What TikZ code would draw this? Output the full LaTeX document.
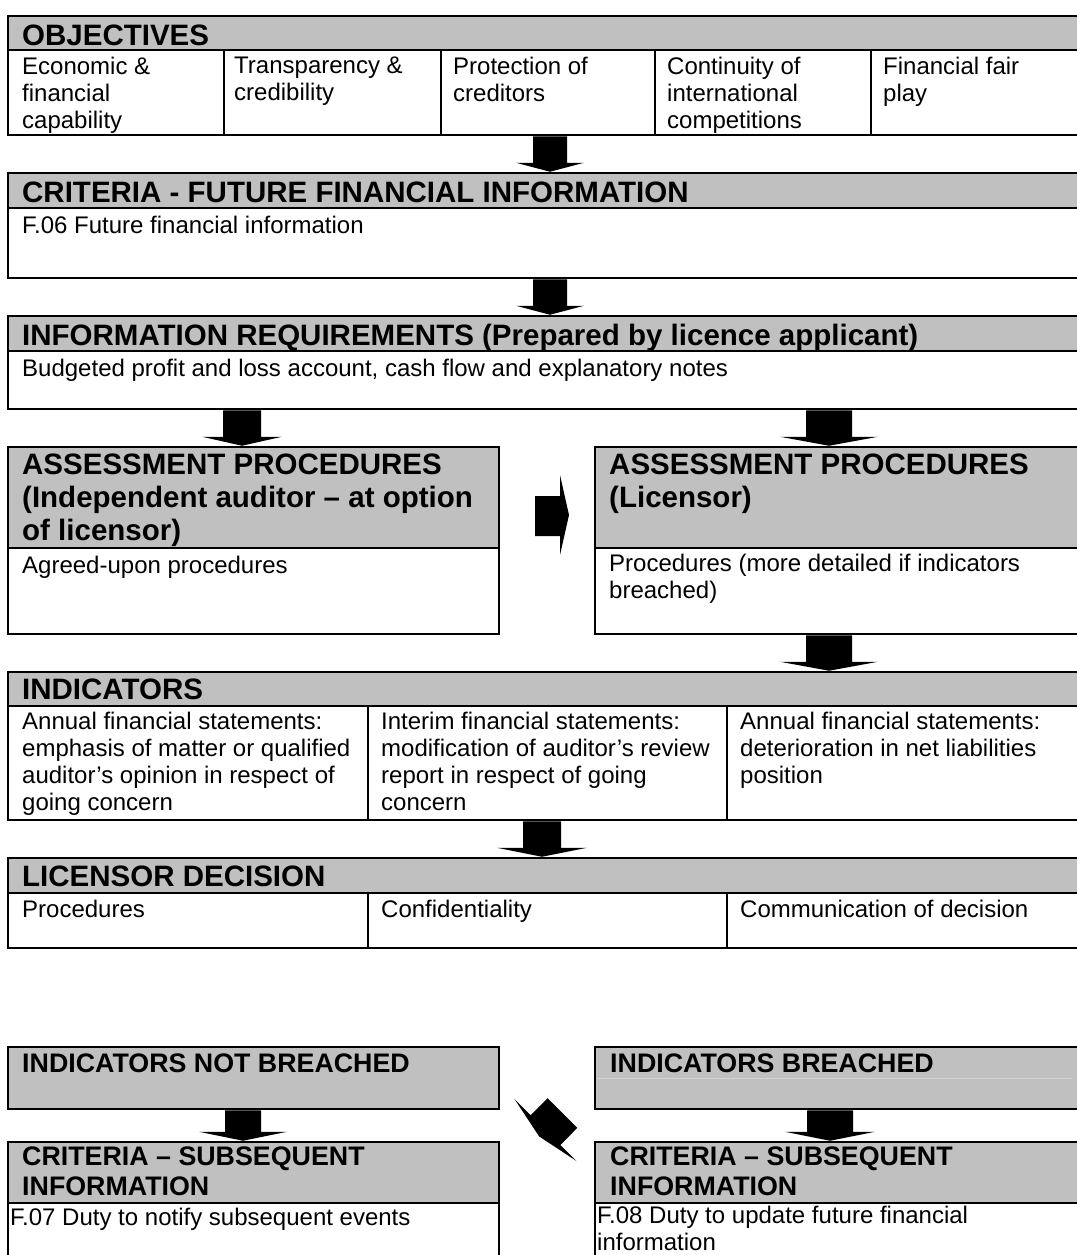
\documentclass[tikz,border=0pt]{standalone}
\usepackage{fontspec}
\setmainfont{Liberation Sans}
\usetikzlibrary{calc,fit}
\definecolor{hdrgray}{HTML}{C0C0C0}
\definecolor{faint}{HTML}{D4D4D4}
\newcommand\hdfont{\fontsize{29.5}{33}\selectfont\bfseries}
\newcommand\hdfontsm{\fontsize{26.8}{30}\selectfont\bfseries}
\newcommand\bdfont{\fontsize{24}{27}\selectfont}
\tikzset{
  hbox/.style={draw=black,line width=2.5pt,fill=hdrgray,inner sep=0pt},
  bbox/.style={draw=black,line width=2.5pt,inner sep=0pt},
  divider/.style={draw=black,line width=2pt},
  txt/.style={anchor=north west,inner sep=0pt,align=left,execute at begin node=\strut},
  htext/.style={txt,font=\hdfont,yshift=23.1pt},
  htextsm/.style={txt,font=\hdfontsm,yshift=21pt},
  btext/.style={txt,font=\bdfont,yshift=18.9pt},
  blockarrow/.style={fill=black,draw=none},
}
% down block arrow: centre x, from node anchor, to node anchor, shaft half width, head half width
\newcommand\downarr[5]{%
  \path[blockarrow] let \p1=(#2), \p2=(#3) in
    (#1pt-#4pt,\y1) -- (#1pt+#4pt,\y1) -- (#1pt+#4pt,\y2+9pt) -- (#1pt+#5pt,\y2+9pt)
    -- (#1pt,\y2) -- (#1pt-#5pt,\y2+9pt) -- (#1pt-#4pt,\y2+9pt) -- cycle;}
\begin{document}
\begin{tikzpicture}[x=1pt,y=-1pt]
\useasboundingbox (0,0) rectangle (1076,1255);

% ---------- OBJECTIVES
\node[hbox,fit={(8,16)(1090,50)}] (objH) {};
\node[bbox,fit={(8,50)(1090,135)}] (objB) {};
\draw[divider] (224,50) -- (224,135) (441,50) -- (441,135) (655,50) -- (655,135) (871,50) -- (871,135);
\node[htext] (objT) at (22,45) {OBJECTIVES};
\node[btext] (o1) at (22,76) {Economic \&\\financial\\capability};
\node[btext] (o2) at (234,76) {Transparency \&\\credibility};
\node[btext] (o3) at (453,76) {Protection of\\creditors};
\node[btext] (o4) at (667,76) {Continuity of\\international\\competitions};
\node[btext] (o5) at (883,76) {Financial fair\\play};

% ---------- CRITERIA
\node[hbox,fit={(8,173)(1090,208)}] (crH) {};
\node[bbox,fit={(8,208)(1090,278)}] (crB) {};
\node[htext] (crT) at (22,202) {CRITERIA - FUTURE FINANCIAL INFORMATION};
\node[btext] (crX) at (22,233) {F.06 Future financial information};

% ---------- INFORMATION REQUIREMENTS
\node[hbox,fit={(8,316)(1090,351)}] (irH) {};
\node[bbox,fit={(8,351)(1090,409)}] (irB) {};
\node[htext] (irT) at (22,345) {INFORMATION REQUIREMENTS (Prepared by licence applicant)};
\node[btext] (irX) at (22,376) {Budgeted profit and loss account, cash flow and explanatory notes};

% ---------- ASSESSMENT PROCEDURES
\node[hbox,fit={(8,447)(499,548)}] (alH) {};
\node[bbox,fit={(8,548)(499,634)}] (alB) {};
\node[htext] (alT) at (22,477) {ASSESSMENT PROCEDURES\\(Independent auditor -- at option\\of licensor)};
\node[btext] (alX) at (22,573) {Agreed-upon procedures};

\node[hbox,fit={(595,447)(1090,548)}] (arH) {};
\node[bbox,fit={(595,548)(1090,634)}] (arB) {};
\node[htext] (arT) at (609,477) {ASSESSMENT PROCEDURES\\(Licensor)};
\node[btext] (arX) at (609,573) {Procedures (more detailed if indicators\\breached)};

% ---------- INDICATORS
\node[hbox,fit={(8,672)(1090,706)}] (inH) {};
\node[bbox,fit={(8,706)(1090,820)}] (inB) {};
\draw[divider] (368,706) -- (368,820) (727,706) -- (727,820);
\node[htext] (inT) at (22,699) {INDICATORS};
\node[btext] (i1) at (22,731) {Annual financial statements:\\emphasis of matter or qualified\\auditor’s opinion in respect of\\going concern};
\node[btext] (i2) at (381,731) {Interim financial statements:\\modification of auditor’s review\\report in respect of going\\concern};
\node[btext] (i3) at (740,731) {Annual financial statements:\\deterioration in net liabilities\\position};

% ---------- LICENSOR DECISION
\node[hbox,fit={(8,858)(1090,893)}] (ldH) {};
\node[bbox,fit={(8,893)(1090,948)}] (ldB) {};
\draw[divider] (368,893) -- (368,948) (727,893) -- (727,948);
\node[htext] (ldT) at (22,886) {LICENSOR DECISION};
\node[btext] (l1) at (22,917) {Procedures};
\node[btext] (l2) at (381,917) {Confidentiality};
\node[btext] (l3) at (740,917) {Communication of decision};

% ---------- INDICATORS (NOT) BREACHED
\node[hbox,fit={(8,1047)(499,1109)}] (nbH) {};
\node[htextsm] (nbT) at (22,1072) {INDICATORS NOT BREACHED};
\node[hbox,fit={(595,1047)(1090,1109)}] (brH) {};
\draw[faint,line width=1pt] (597,1078) -- (1072,1078);
\node[htextsm] (brT) at (610,1072) {INDICATORS BREACHED};

% ---------- CRITERIA SUBSEQUENT
\node[hbox,fit={(8,1142)(499,1203)}] (slH) {};
\node[bbox,fit={(8,1203)(499,1300)}] (slB) {};
\node[htextsm] (slT) at (22,1168) {CRITERIA -- SUBSEQUENT\\INFORMATION};
\node[btext] (slX) at (10,1225) {F.07 Duty to notify subsequent events};

\node[hbox,fit={(595,1142)(1090,1203)}] (srH) {};
\node[bbox,fit={(595,1203)(1090,1300)}] (srB) {};
\node[htextsm] (srT) at (610,1168) {CRITERIA -- SUBSEQUENT\\INFORMATION};
\node[btext] (srX) at (597,1225) {F.08 Duty to update future financial\\information};

% ---------- block arrows
\downarr{550}{objB.south}{crH.north}{17}{34}
\downarr{550}{crB.south}{irH.north}{17}{34}
\downarr{242}{irB.south}{alH.north}{19}{40}
\downarr{829}{irB.south}{arH.north}{23}{49}
\downarr{829}{arB.south}{inH.north}{23}{49}
\downarr{542}{inB.south}{ldH.north}{19}{45}
\downarr{243}{nbH.south}{slH.north}{18}{44}
\downarr{830}{brH.south}{srH.north}{23}{45}

% right arrow between the two assessment boxes
\path[blockarrow] let \p1=(alH.east), \p2=(arH.west) in
  (535pt,\y1+1.5pt) -- (560pt,\y1+1.5pt) -- (560pt,\y1+22.5pt) -- (569pt,\y1-17.5pt)
  -- (560pt,\y1-57.5pt) -- (560pt,\y1-38.5pt) -- (535pt,\y1-38.5pt) -- cycle;

% diagonal arrow from INDICATORS BREACHED towards the left CRITERIA box
\coordinate (dS1) at (547.6,1098.2);
\coordinate (dS2) at (577.3,1127.9);
\coordinate (dS3) at (560.4,1144.9);
\coordinate (dH2) at (576.6,1161.1);
\coordinate (dT)  at (539.1,1136.4);
\coordinate (dH1) at (514.4,1098.9);
\coordinate (dS4) at (530.7,1115.2);
\path[blockarrow] (dS1) -- (dS2) -- (dS3) -- (dH2) -- (dT) -- (dH1) -- (dS4) -- cycle;
\end{tikzpicture}
\end{document}
